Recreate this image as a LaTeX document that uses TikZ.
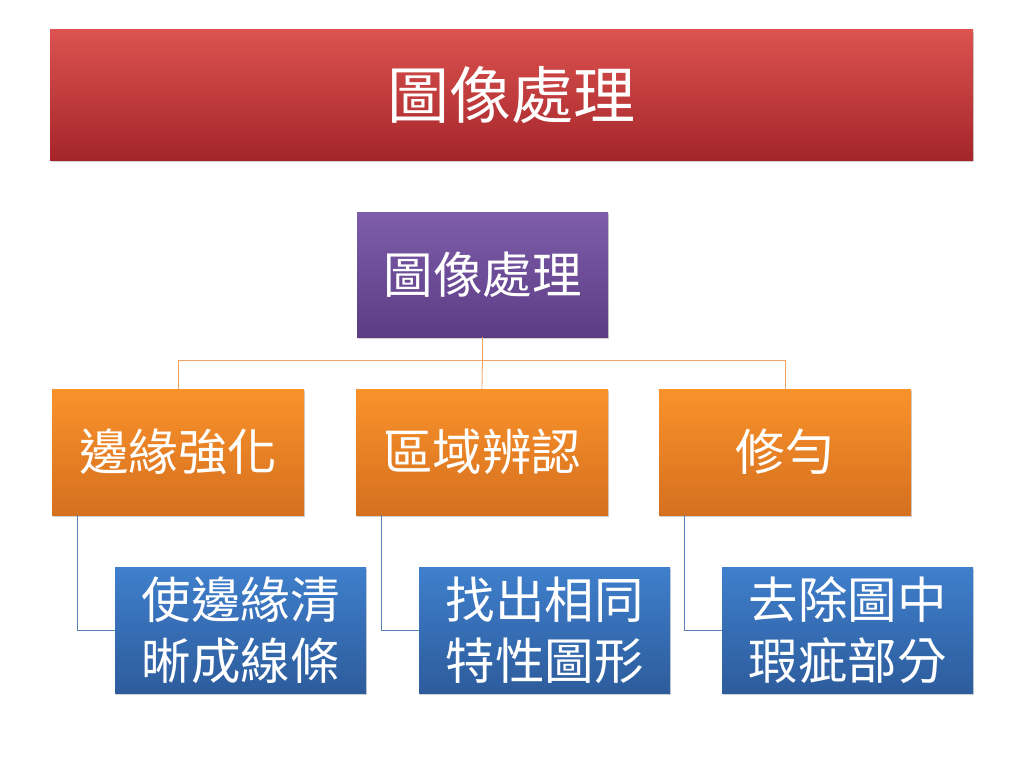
\documentclass[tikz,border=0pt]{standalone}
\usepackage{fontspec}
\setmainfont{Noto Sans CJK TC}
\usetikzlibrary{shadows}
\definecolor{redT}{HTML}{DC5350}
\definecolor{redB}{HTML}{A5252A}
\definecolor{purT}{HTML}{7E5CAA}
\definecolor{purB}{HTML}{5C3D84}
\definecolor{orT}{HTML}{FA922B}
\definecolor{orB}{HTML}{D5701F}
\definecolor{blT}{HTML}{3F7FCC}
\definecolor{blB}{HTML}{2D5C9C}
\definecolor{orLine}{HTML}{F2A262}
\definecolor{blLine}{HTML}{5B80B8}
\tikzset{
  x=1pt, y=-1pt,
  box/.style={inner sep=0pt, align=center, text=white, font=\fontsize{49.5}{61}\selectfont,
    drop shadow={shadow xshift=1pt, shadow yshift=-2pt, opacity=0.3, fill=black!60}},
  titlebox/.style={box, minimum width=923pt, minimum height=130pt, top color=redT, bottom color=redB, font=\fontsize{62}{64}\selectfont},
  purbox/.style={box, minimum width=251pt, minimum height=125pt, top color=purT, bottom color=purB},
  orbox/.style={box, minimum width=252pt, minimum height=126pt, top color=orT, bottom color=orB},
  blbox/.style={box, minimum width=251pt, minimum height=126pt, top color=blT, bottom color=blB},
  orconn/.style={draw=orLine, line width=0.8pt},
  blconn/.style={draw=blLine, line width=0.8pt},
}
\begin{document}
\begin{tikzpicture}
\useasboundingbox (0,0) rectangle (1024,768);
\node[titlebox] (title) at (511.5,95) {圖像處理};
\node[purbox] (root) at (482.5,274.5) {圖像處理};
\node[orbox] (o1) at (178,452) {邊緣強化};
\node[orbox] (o2) at (482,452) {區域辨認};
\node[orbox] (o3) at (785,452) {修勻};
\node[blbox] (b1) at (240.5,630) {使邊緣清\\晰成線條};
\node[blbox] (b2) at (544.5,630) {找出相同\\特性圖形};
\node[blbox] (b3) at (847.5,630) {去除圖中\\瑕疵部分};
\coordinate (hub) at (482.5,360);
\draw[orconn] (root.south) -- (hub);
\draw[orconn] (hub) -| (o1.north);
\draw[orconn] (hub) -- (o2.north);
\draw[orconn] (hub) -| (o3.north);
\draw[blconn] ([xshift=26pt]o1.south west) |- (b1.west);
\draw[blconn] ([xshift=26pt]o2.south west) |- (b2.west);
\draw[blconn] ([xshift=26pt]o3.south west) |- (b3.west);
\end{tikzpicture}
\end{document}
